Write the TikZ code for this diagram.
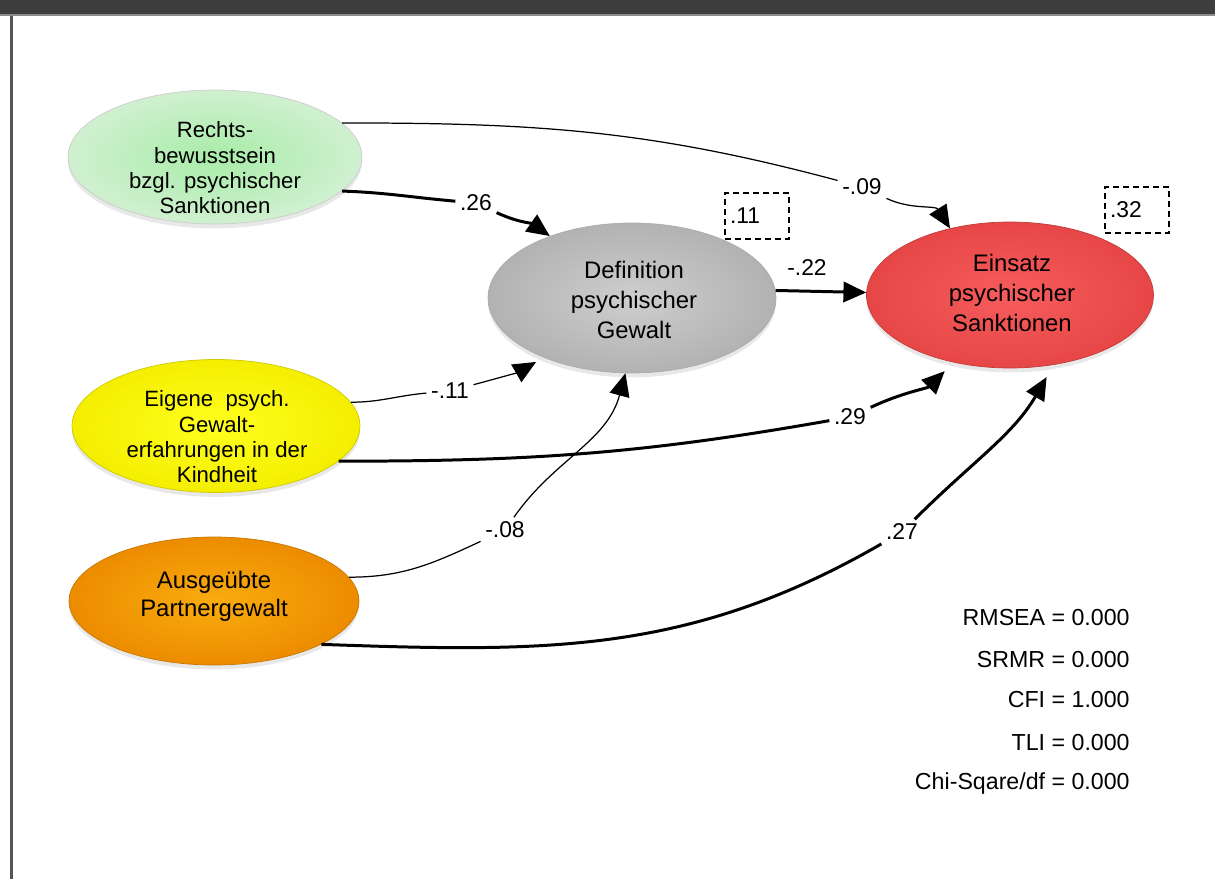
\documentclass[tikz,border=0pt]{standalone}
\usepackage{fontspec}
\setmainfont{Liberation Sans}
\usepackage{tikz}
\usetikzlibrary{positioning,shapes.geometric,shadows,arrows.meta}
\definecolor{barbg}{HTML}{3E3E3E}
\definecolor{barline}{HTML}{8C8C8C}
\definecolor{frame}{HTML}{555555}
\definecolor{greenin}{RGB}{168,236,168}
\definecolor{greenout}{RGB}{208,240,208}
\definecolor{grayin}{RGB}{206,206,206}
\definecolor{grayout}{RGB}{178,178,178}
\definecolor{redin}{RGB}{247,92,92}
\definecolor{redout}{RGB}{230,70,70}
\definecolor{yellowin}{RGB}{255,255,30}
\definecolor{yellowout}{RGB}{244,238,0}
\definecolor{orangein}{RGB}{250,172,14}
\definecolor{orangeout}{RGB}{236,140,0}

\begin{document}
\begin{tikzpicture}[x=0.02cm,y=-0.02cm,
    construct/.style={ellipse,inner sep=0pt,line width=0.4pt,
      drop shadow={shadow xshift=0pt,shadow yshift=-2.5pt,opacity=0.18}},
    smalltxt/.style={align=center,font=\fontsize{12.6}{14.4}\selectfont},
    bigtxt/.style={align=center,font=\fontsize{13.6}{17}\selectfont},
    lbl/.style={inner sep=2.5pt,font=\fontsize{13}{15}\selectfont},
    rbox/.style={draw,dashed,line width=0.6pt,dash pattern=on 3.4pt off 2.3pt,
      minimum height=0.92cm,inner xsep=0.1cm,text width=1.08cm,align=left,
      font=\fontsize{13}{15}\selectfont},
    fit/.style={anchor=east,inner sep=0pt,font=\fontsize{13.2}{15}\selectfont},
    weak/.style={line width=0.7pt},
    strong/.style={line width=1.7pt},
    tip/.style={-{Triangle[length=13pt,width=11.5pt]}}]
    \useasboundingbox (0,0) rectangle (1215,879);

    % frame
    \fill[barbg] (0,0) rectangle (1215,14);
    \fill[barline] (0,14) rectangle (1215,15.5);
    \fill[frame] (10,15.5) rectangle (13,879);

    % constructs
    \node[construct,draw=gray!40,inner color=greenin,outer color=greenout,
      minimum width=5.88cm,minimum height=2.68cm] (rechts) at (215,157) {};
    \node[construct,draw=yellowout!85!black,inner color=yellowin,outer color=yellowout,
      minimum width=5.76cm,minimum height=2.66cm] (eig) at (216,426) {};
    \node[construct,draw=orangeout!85!black,inner color=orangein,outer color=orangeout,
      minimum width=5.8cm,minimum height=2.56cm] (aus) at (214,601) {};
    \node[construct,draw=gray!65,inner color=grayin,outer color=grayout,
      minimum width=5.76cm,minimum height=3cm] (def) at (632,298) {};
    \node[construct,draw=redout!85!black,inner color=redin,outer color=redout,
      minimum width=5.74cm,minimum height=2.92cm] (ein) at (1010,295) {};

    \node[smalltxt] (rechtstxt) at (215,168) {Rechts-\\bewusstsein\\bzgl. psychischer\\Sanktionen};
    \node[smalltxt] (eigtxt) at (217,437) {Eigene~ psych.\\Gewalt-\\erfahrungen in der\\Kindheit};
    \node[bigtxt,font=\fontsize{13.6}{16}\selectfont] (austxt) at (214,596) {Ausgeübte\\Partnergewalt};
    \node[bigtxt] (deftxt) at (634,300) {Definition\\psychischer\\Gewalt};
    \node[bigtxt] (eintxt) at (1012,293) {Einsatz\\psychischer\\Sanktionen};

    % explained variance
    \node[rbox] (r2def) at (757,216) {.11};
    \node[rbox] (r2ein) at (1137,210) {.32};

    % path coefficients
    \node[lbl] (w26) at (476,203) {.26};
    \node[lbl] (w09) at (862,187) {-.09};
    \node[lbl] (w22) at (807,268) {-.22};
    \node[lbl] (w11) at (450,391) {-.11};
    \node[lbl] (w29) at (850,417) {.29};
    \node[lbl] (w08) at (505,530) {-.08};
    \node[lbl] (w27) at (902,532) {.27};

    \path[weak]
      (rechts.15) edge[out=0,in=165] (w09)
      (w09) edge[tip,out=-25,in=122] (ein.132)
      (eig.10) edge[out=0,in=185] (w11)
      (w11) edge[tip,out=15,in=210,shorten >=5pt] (def.214)
      (aus.10) edge[out=0,in=205] (w08)
      (w08) edge[tip,out=55,in=255] (def.265);

    \path[strong]
      (rechts.-15) edge[out=-2,in=175] (w26)
      (w26) edge[tip,out=-25,in=145] (def.143)
      (eig.-16) edge[out=0,in=190] (w29)
      (w29) edge[tip,out=25,in=225,shorten >=7pt] (ein.230)
      (aus.-22) edge[out=-2,in=210] (w27)
      (w27) edge[tip,out=45,in=240,shorten >=8pt] (ein.-58)
      (def.3) edge[tip] (ein.179);

    % fit indices
    \node[fit] (rmsea) at (1130,618) {RMSEA = 0.000};
    \node[fit] (srmr) at (1130,660) {SRMR = 0.000};
    \node[fit] (cfi) at (1130,700) {CFI = 1.000};
    \node[fit] (tli) at (1130,743) {TLI = 0.000};
    \node[fit] (chisq) at (1130,783) {Chi-Sqare/df = 0.000};
\end{tikzpicture}
\end{document}
